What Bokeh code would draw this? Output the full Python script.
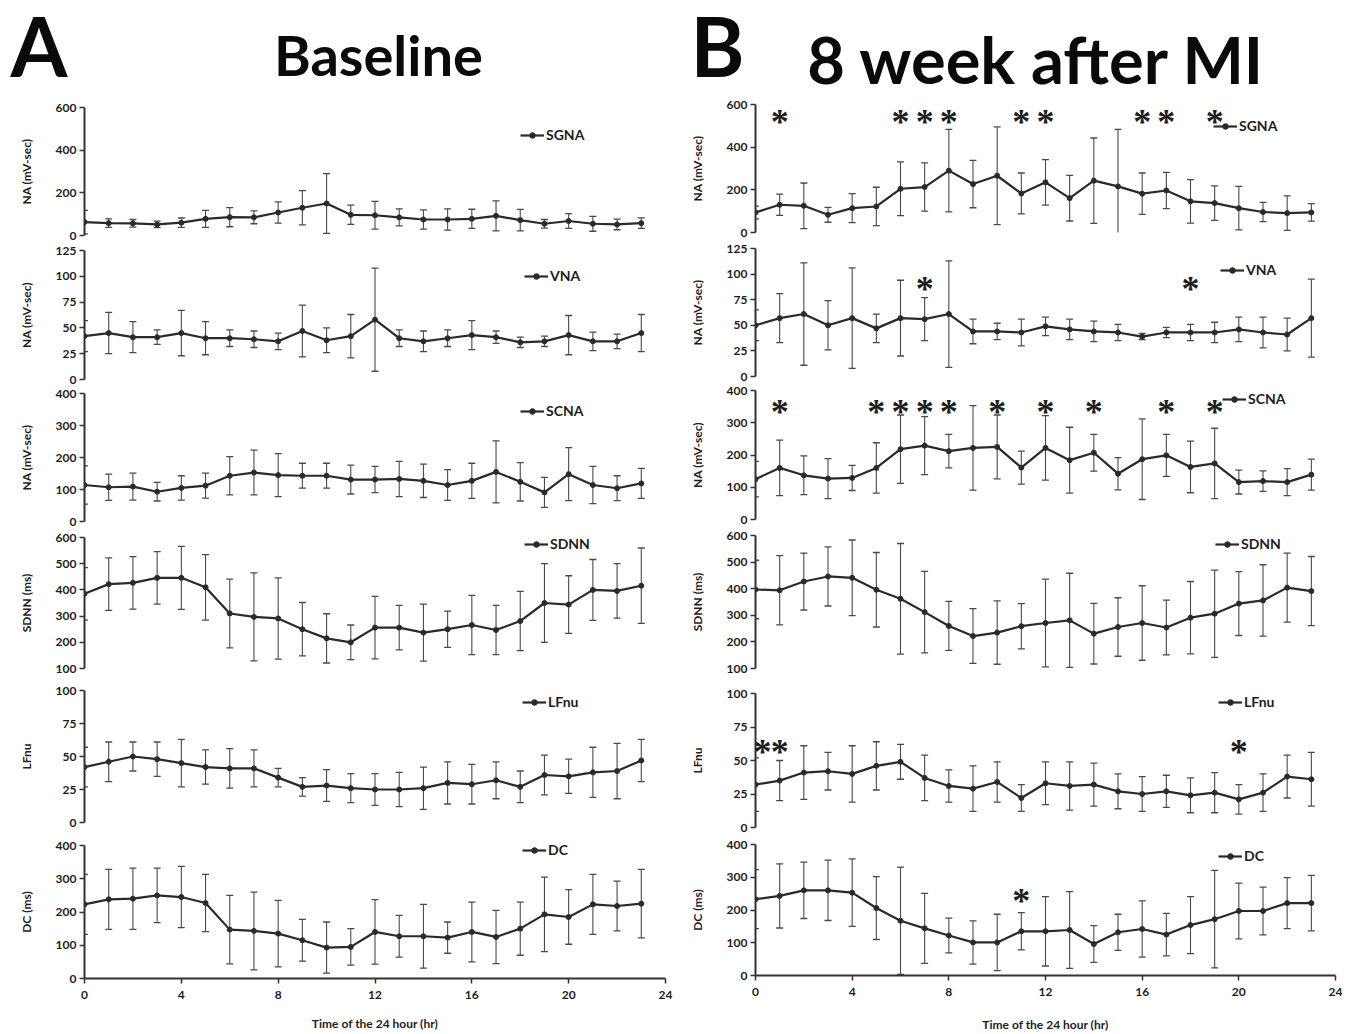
from bokeh.plotting import figure
from bokeh.layouts import column, row
from bokeh.models import Range1d, FixedTicker, Legend, LegendItem, LabelSet, ColumnDataSource
from bokeh.embed import file_html
from bokeh.resources import INLINE
from bokeh.core.properties import value

# ---------------- data ----------------
hours = list(range(24))
x_ticks = [0, 4, 8, 12, 16, 20, 24]

# Baseline (A)
base_sgna = [63, 58, 57, 52, 60, 78, 86, 85, 108, 130, 150, 97, 95, 85, 75, 75, 78, 92, 72, 55, 68, 55, 52, 58]
base_sgna_err = [55, 20, 18, 15, 22, 40, 45, 30, 50, 80, 140, 45, 65, 40, 45, 50, 45, 70, 50, 20, 35, 35, 25, 25]
base_vna = [42, 45, 41, 41, 45, 40, 40, 39, 37, 47, 38, 42, 58, 40, 37, 40, 43, 41, 36, 37, 43, 37, 37, 45]
base_vna_err = [15, 20, 15, 7, 22, 16, 8, 8, 8, 25, 12, 21, 50, 8, 10, 8, 14, 6, 5, 5, 19, 9, 7, 18]
base_scna = [114, 107, 109, 93, 105, 112, 143, 153, 145, 143, 143, 131, 131, 133, 127, 114, 127, 155, 124, 91, 148, 114, 104, 119]
base_scna_err = [60, 41, 42, 29, 38, 39, 60, 70, 67, 39, 39, 45, 41, 55, 52, 48, 55, 97, 60, 47, 83, 58, 39, 47]
base_sdnn = [385, 422, 427, 446, 446, 410, 310, 297, 291, 250, 215, 200, 256, 256, 237, 250, 266, 247, 281, 350, 344, 400, 396, 416]
base_sdnn_err = [100, 100, 100, 100, 120, 125, 131, 168, 155, 102, 94, 66, 119, 85, 109, 69, 113, 94, 113, 150, 110, 116, 104, 144]
base_lfnu = [42, 46, 50, 48, 45, 42, 41, 41, 34, 27, 28, 26, 25, 25, 26, 30, 29, 32, 27, 36, 35, 38, 39, 47]
base_lfnu_err = [15, 15, 11, 13, 18, 13, 15, 14, 7, 7, 12, 11, 12, 13, 16, 16, 15, 14, 12, 15, 13, 19, 21, 16]
base_dc = [223, 238, 240, 250, 245, 227, 147, 143, 135, 115, 93, 95, 140, 127, 127, 123, 140, 125, 150, 193, 185, 223, 218, 225]
base_dc_err = [90, 90, 92, 82, 92, 86, 103, 117, 100, 63, 77, 55, 97, 63, 96, 47, 90, 80, 80, 112, 82, 90, 75, 103]

# 8 week after MI (B)
mi_sgna = [94, 130, 125, 83, 114, 122, 205, 213, 290, 227, 266, 183, 235, 161, 243, 216, 182, 197, 146, 138, 114, 96, 91, 94]
mi_sgna_err = [30, 50, 107, 35, 68, 90, 126, 113, 193, 111, 229, 96, 107, 107, 200, 267, 97, 85, 102, 81, 102, 45, 81, 41]
mi_vna = [50, 57, 61, 50, 57, 47, 57, 56, 61, 44, 44, 43, 49, 46, 44, 43, 39, 43, 43, 43, 46, 43, 41, 57]
mi_vna_err = [15, 24, 50, 24, 49, 14, 37, 21, 52, 12, 8, 13, 9, 10, 10, 8, 3, 5, 8, 10, 12, 15, 16, 38]
mi_scna = [125, 160, 137, 127, 129, 160, 218, 229, 212, 222, 225, 161, 222, 184, 207, 142, 187, 199, 163, 174, 116, 119, 116, 139]
mi_scna_err = [55, 86, 60, 62, 39, 78, 106, 90, 52, 131, 99, 51, 100, 102, 57, 50, 125, 65, 80, 109, 37, 32, 42, 48]
mi_sdnn = [397, 394, 427, 446, 441, 396, 362, 312, 260, 222, 235, 259, 271, 281, 231, 256, 271, 254, 291, 306, 344, 356, 404, 391]
mi_sdnn_err = [110, 130, 107, 111, 142, 140, 208, 153, 92, 103, 119, 85, 165, 177, 114, 110, 140, 103, 136, 164, 120, 134, 130, 130]
mi_lfnu = [32, 35, 41, 42, 40, 46, 49, 37, 31, 29, 34, 22, 33, 31, 32, 27, 25, 27, 24, 26, 21, 26, 38, 36]
mi_lfnu_err = [20, 15, 20, 14, 21, 18, 13, 17, 12, 17, 15, 10, 16, 18, 16, 13, 13, 12, 13, 15, 11, 14, 16, 20]
mi_dc = [233, 243, 260, 260, 253, 206, 167, 144, 122, 101, 101, 135, 135, 139, 96, 132, 142, 125, 154, 172, 197, 197, 221, 221]
mi_dc_err = [90, 98, 86, 92, 103, 96, 164, 107, 53, 66, 86, 57, 106, 117, 56, 55, 86, 65, 87, 149, 85, 73, 78, 85]

# significance markers (hour, level) for panel B
star_sgna_hours = [1, 6, 7, 8, 11, 12, 16, 17, 19]
star_sgna_level = 539
star_vna_hours = [7, 18]
star_vna_level = 89
star_scna_hours = [1, 5, 6, 7, 8, 10, 12, 14, 17, 19]
star_scna_level = 347
star_lfnu_hours = [0, 1, 20]
star_lfnu_level = 59
star_dc_hours = [11]
star_dc_level = 241

panel_titles = ["A", "Baseline", "B", "8 week after MI"]

FONT = "Lato"
INK = "#1e1e1e"
LINE = "#2a2a2a"
ERR = "#4a4a4a"


def panel(mean, err, name, ylabel, yr, yticks, fw, fh, bl, br, bt, bb,
          leg_xy, stars=None, star_level=None, bottom=False, xlab_standoff=12):
    p = figure(frame_width=fw, frame_height=fh, title=None,
               x_range=Range1d(0, 24), y_range=Range1d(yr[0], yr[1]),
               output_backend="svg", toolbar_location=None,
               min_border_left=bl, min_border_right=br,
               min_border_top=bt, min_border_bottom=bb,
               x_axis_location="below" if bottom else None,
               outline_line_color=None, background_fill_color="white",
               border_fill_color="white")
    p.xgrid.visible = False
    p.ygrid.visible = False

    lo = [m - e for m, e in zip(mean, err)]
    hi = [m + e for m, e in zip(mean, err)]
    p.segment(x0=hours, y0=lo, x1=hours, y1=hi, line_color=ERR, line_width=1.1)
    p.scatter(hours, hi, marker="dash", size=7, line_color=ERR, line_width=1.3)
    p.scatter(hours, lo, marker="dash", size=7, line_color=ERR, line_width=1.3)
    r_line = p.line(hours, mean, line_color=LINE, line_width=2.2)
    r_pt = p.scatter(hours, mean, marker="circle", size=5, fill_color=LINE, line_color=LINE)

    if stars:
        # a star sitting on the y-axis is nudged right so it is not cut by the frame edge
        src = ColumnDataSource(dict(x=stars, y=[star_level] * len(stars),
                                    t=["*"] * len(stars),
                                    dx=[7 if h == 0 else 0 for h in stars]))
        p.add_layout(LabelSet(x="x", y="y", text="t", source=src, x_offset="dx",
                              text_align="center", text_baseline="alphabetic",
                              text_font_size="36px", text_font_style="bold",
                              text_color=INK, text_font=FONT, y_offset=-16))

    leg = Legend(items=[LegendItem(label=name, renderers=[r_line, r_pt])],
                 location=leg_xy, glyph_width=24, glyph_height=14,
                 label_standoff=2, padding=0, margin=0, spacing=0,
                 label_height=14, border_line_alpha=0, background_fill_alpha=0,
                 label_text_font=FONT, label_text_font_style="bold",
                 label_text_font_size="14px", label_text_color=INK)
    p.add_layout(leg)

    ax = p.yaxis[0]
    ax.ticker = FixedTicker(ticks=yticks)
    ax.axis_label = ylabel
    ax.axis_label_text_font = FONT
    ax.axis_label_text_font_style = "bold"
    ax.axis_label_text_font_size = "12px"
    ax.axis_label_text_color = INK
    ax.axis_label_standoff = 19
    ax.major_label_text_font = FONT
    ax.major_label_text_font_style = "bold"
    ax.major_label_text_font_size = "12px"
    ax.major_label_text_color = INK
    ax.major_label_standoff = 3
    ax.major_tick_out = 5
    ax.major_tick_in = 0
    ax.minor_tick_out = 0
    ax.minor_tick_in = 0
    ax.axis_line_width = 2
    ax.axis_line_color = "#333333"
    ax.major_tick_line_color = "#333333"
    ax.major_tick_line_width = 1.5

    if bottom:
        xa = p.xaxis[0]
        xa.ticker = FixedTicker(ticks=x_ticks)
        xa.axis_label = "Time of the 24 hour (hr)"
        xa.axis_label_text_font = FONT
        xa.axis_label_text_font_style = "bold"
        xa.axis_label_text_font_size = "12px"
        xa.axis_label_text_color = INK
        xa.axis_label_standoff = xlab_standoff
        xa.major_label_text_font = FONT
        xa.major_label_text_font_style = "bold"
        xa.major_label_text_font_size = "12px"
        xa.major_label_text_color = INK
        xa.major_label_standoff = 7
        xa.major_tick_out = 5
        xa.major_tick_in = 0
        xa.minor_tick_out = 0
        xa.minor_tick_in = 0
        xa.axis_line_width = 2
        xa.axis_line_color = "#333333"
        xa.major_tick_line_color = "#333333"
        xa.major_tick_line_width = 1.5
    return p


# layout in pixels: (frame height, top border, bottom border)
LW, RW = 581, 580
left_specs = [
    (base_sgna, base_sgna_err, "SGNA", "NA (mV-sec)", (0, 600), [0, 200, 400, 600], 128, 12, 7),
    (base_vna, base_vna_err, "VNA", "NA (mV-sec)", (0, 125), [0, 25, 50, 75, 100, 125], 129, 8, 7),
    (base_scna, base_scna_err, "SCNA", "NA (mV-sec)", (0, 400), [0, 100, 200, 300, 400], 128, 7, 7),
    (base_sdnn, base_sdnn_err, "SDNN", "SDNN (ms)", (100, 600), [100, 200, 300, 400, 500, 600], 131, 9, 7),
    (base_lfnu, base_lfnu_err, "LFnu", "LFnu", (0, 100), [0, 25, 50, 75, 100], 132, 15, 7),
    (base_dc, base_dc_err, "DC", "DC (ms)", (0, 400), [0, 100, 200, 300, 400], 133, 16, 56),
]
right_specs = [
    (mi_sgna, mi_sgna_err, "SGNA", "NA (mV-sec)", (0, 600), [0, 200, 400, 600], 128, 9, 7),
    (mi_vna, mi_vna_err, "VNA", "NA (mV-sec)", (0, 125), [0, 25, 50, 75, 100, 125], 128, 9, 7),
    (mi_scna, mi_scna_err, "SCNA", "NA (mV-sec)", (0, 400), [0, 100, 200, 300, 400], 129, 7, 7),
    (mi_sdnn, mi_sdnn_err, "SDNN", "SDNN (ms)", (100, 600), [100, 200, 300, 400, 500, 600], 133, 9, 7),
    (mi_lfnu, mi_lfnu_err, "LFnu", "LFnu", (0, 100), [0, 25, 50, 75, 100], 134, 18, 7),
    (mi_dc, mi_dc_err, "DC", "DC (ms)", (0, 400), [0, 100, 200, 300, 400], 131, 10, 59),
]
# legend anchors (glyph-left x from frame-left, bottom y from frame-bottom) in px
left_leg = [(436, 92), (440, 95), (436, 102), (440, 116), (438, 112), (438, 120)]
right_leg = [(458, 98), (465, 98), (467, 112), (460, 116), (463, 117), (463, 111)]
right_stars = [(star_sgna_hours, star_sgna_level), (star_vna_hours, star_vna_level),
               (star_scna_hours, star_scna_level), (None, None),
               (star_lfnu_hours, star_lfnu_level), (star_dc_hours, star_dc_level)]

left_figs = []
for i, s in enumerate(left_specs):
    mean, err, name, yl, yr, yt, fh, bt, bb = s
    left_figs.append(panel(mean, err, name, yl, yr, yt, LW, fh, 84, 12, bt, bb,
                           left_leg[i], bottom=(i == 5), xlab_standoff=14))
right_figs = []
for i, s in enumerate(right_specs):
    mean, err, name, yl, yr, yt, fh, bt, bb = s
    st, lv = right_stars[i]
    right_figs.append(panel(mean, err, name, yl, yr, yt, RW, fh, 78, 26, bt, bb,
                            right_leg[i], stars=st, star_level=lv, bottom=(i == 5),
                            xlab_standoff=18))

# header (coordinates = pixels, origin bottom-left)
HW, HH = 1361, 95
hdr = figure(width=HW, height=HH, x_range=Range1d(0, HW), y_range=Range1d(0, HH),
             title=None, output_backend="svg", toolbar_location=None,
             x_axis_location=None, y_axis_location=None, min_border=0,
             outline_line_color=None)
hdr.grid.visible = False
hdr_pos = [(10, 51, "82px", "left"), (378, 41, "56px", "center"),
           (690, 51, "82px", "left"), (1036, 37, "65px", "center")]
for txt, (x, y, size, align) in zip(panel_titles, hdr_pos):
    hdr.text(x=[x], y=[y], text=[txt], text_font=value(FONT), text_font_style="bold",
             text_font_size=size, text_align=align, text_baseline="alphabetic",
             text_color="#0a0a0a")

layout = column(hdr, row(column(*left_figs), column(*right_figs)))

open("out.html", "w").write(file_html(layout, INLINE))
